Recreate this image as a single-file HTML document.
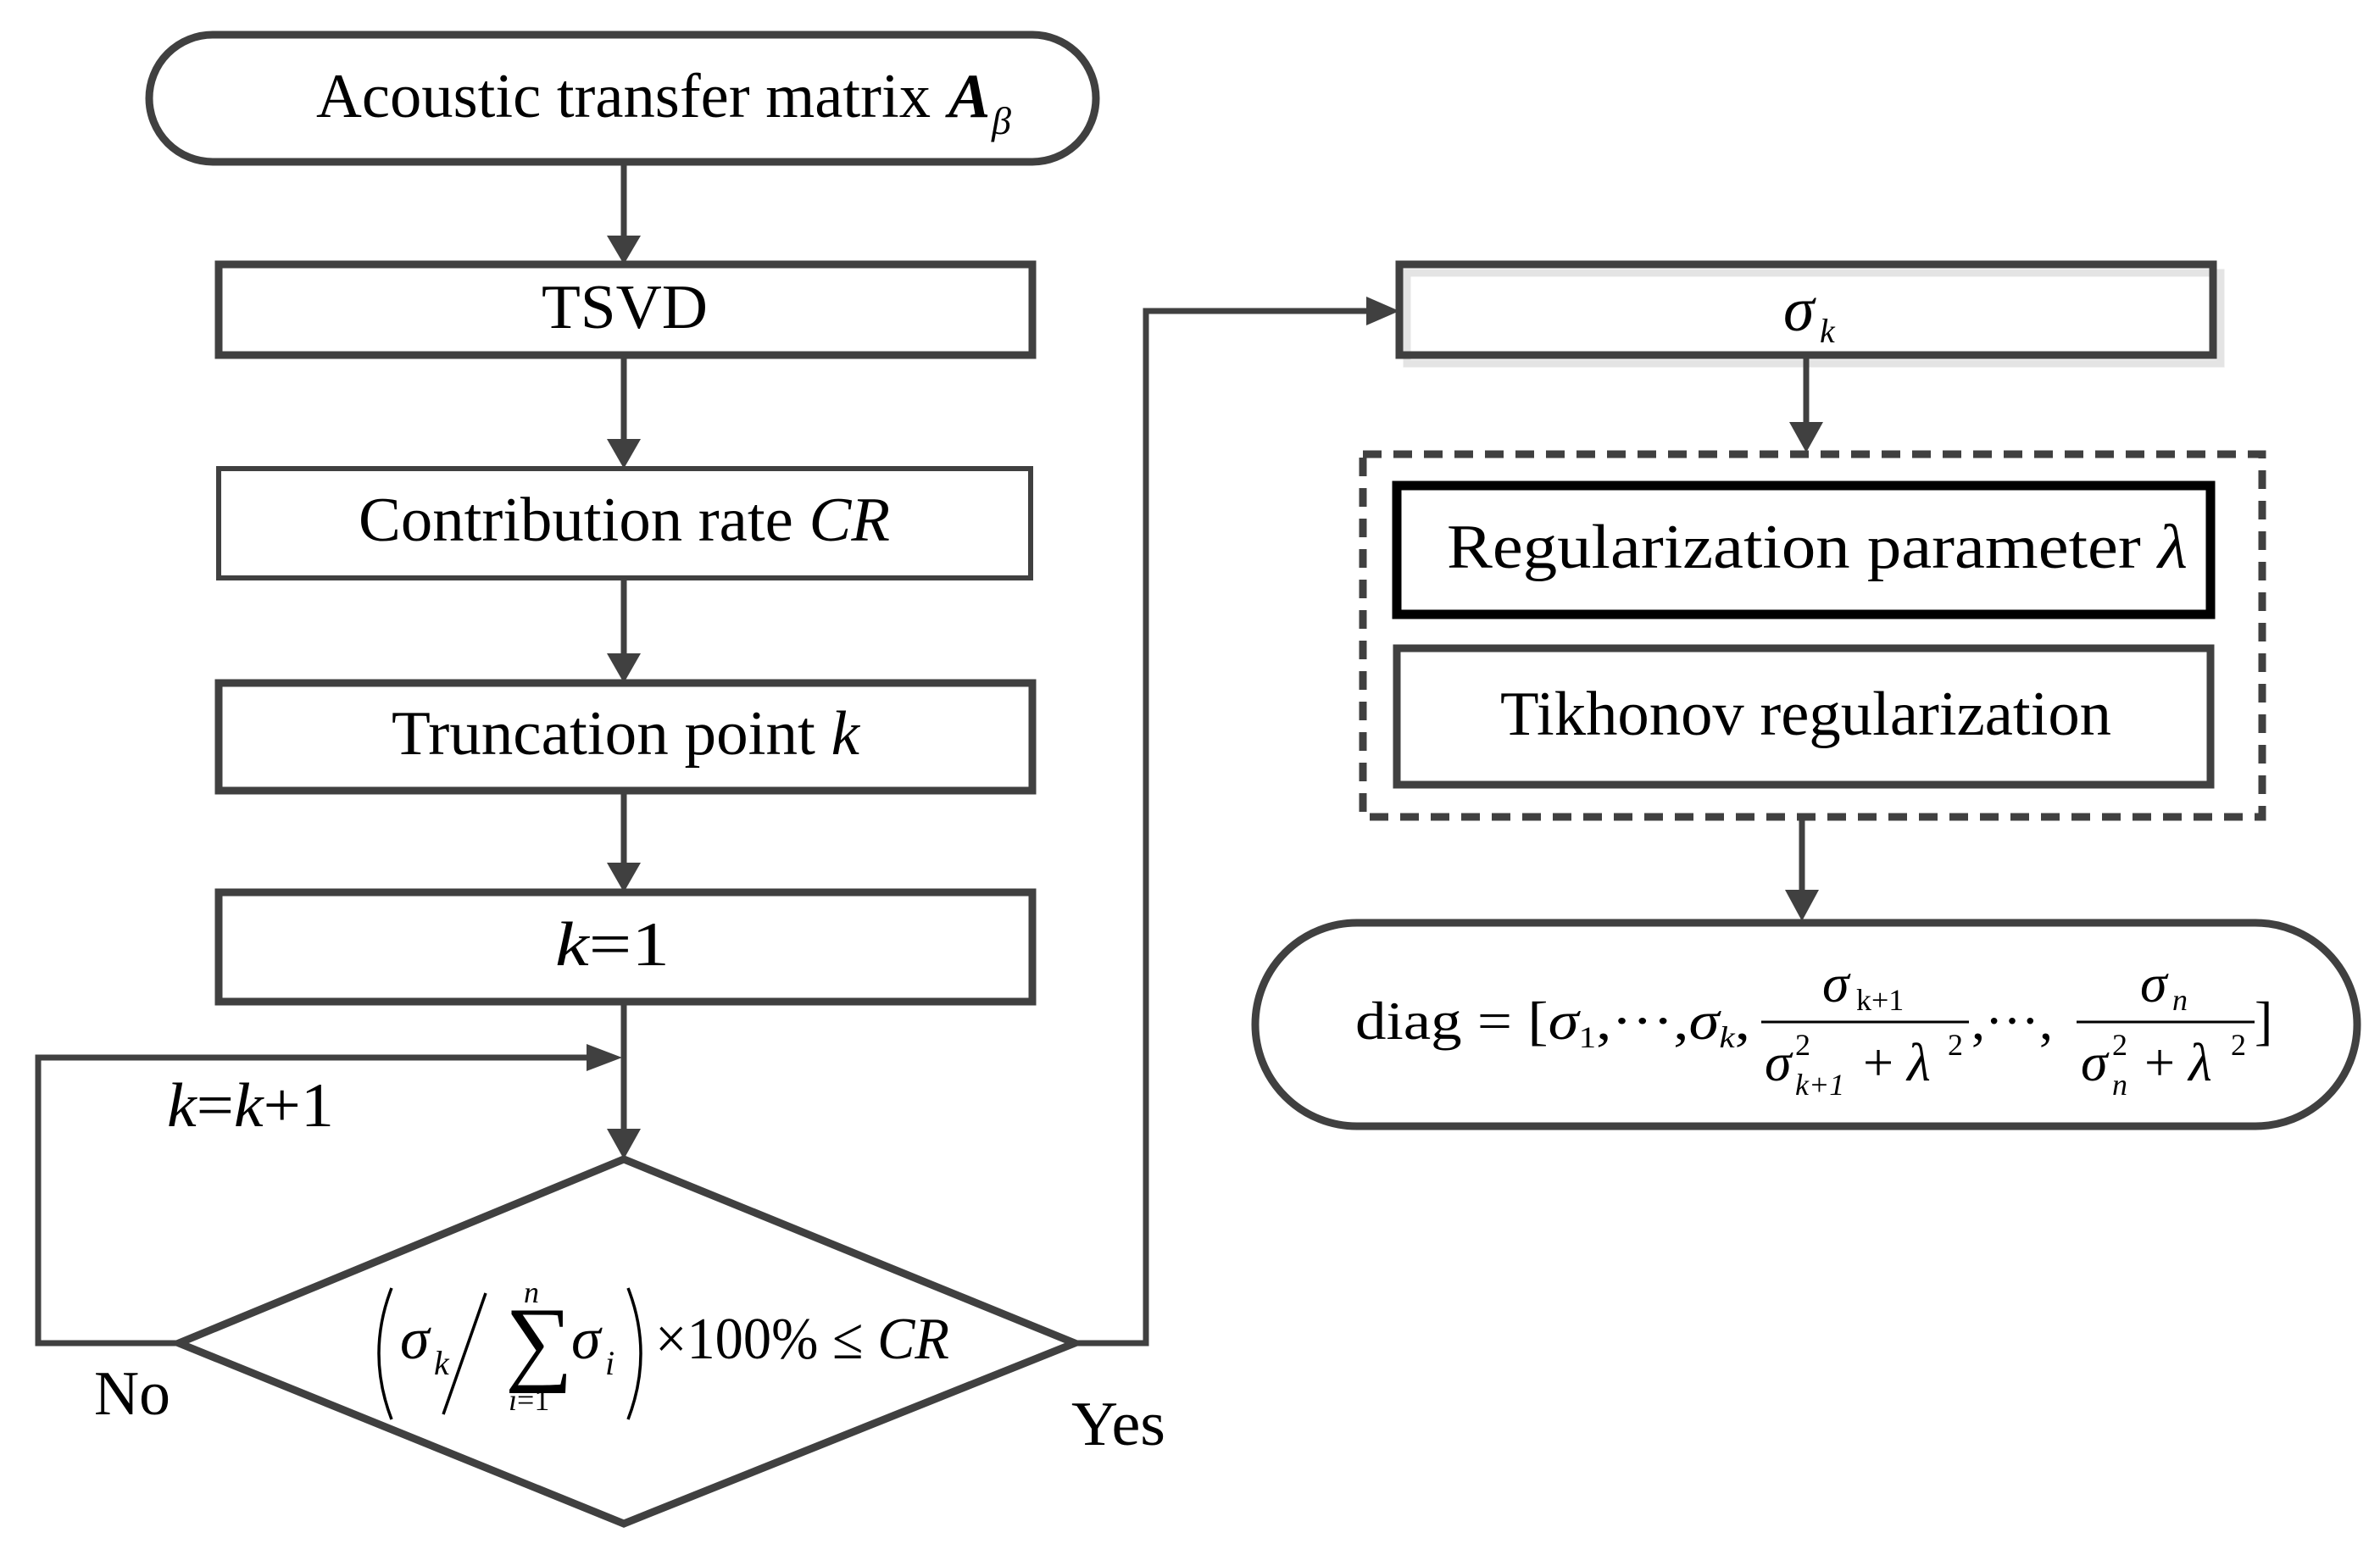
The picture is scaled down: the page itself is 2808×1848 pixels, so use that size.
<!DOCTYPE html>
<html><head><meta charset="utf-8"><style>
html,body{margin:0;padding:0;background:#fff;}
svg{display:block;}
text{font-family:"Liberation Serif",serif;fill:#000;}
</style></head><body>
<svg width="2808" height="1848" viewBox="0 0 2808 1848" xmlns="http://www.w3.org/2000/svg">
<g stroke="#404040" fill="none" stroke-width="9">
<rect x="176" y="41" width="1117" height="150" rx="75" ry="75"/>
<rect x="258" y="312" width="960" height="107"/>
<rect x="258" y="553" width="958" height="129" stroke-width="6"/>
<rect x="258" y="806" width="960" height="127"/>
<rect x="258" y="1053" width="960" height="129"/>
<polygon points="211,1585 736,1368 1268,1585 736,1798"/>
<rect x="1660" y="322" width="960" height="107" stroke="#e4e4e4" stroke-width="9"/>
<rect x="1651" y="312" width="960" height="107"/>
<rect x="1608" y="536" width="1061" height="428" stroke-dasharray="22,14" stroke-width="9"/>
<rect x="1648" y="573" width="960" height="152" stroke="#000" stroke-width="11"/>
<rect x="1648" y="765" width="960" height="161"/>
<rect x="1481" y="1089" width="1300" height="240" rx="120" ry="120"/>
</g>
<g stroke="#404040" stroke-width="7" fill="none">
<line x1="736" y1="191" x2="736" y2="280"/>
<line x1="736" y1="419" x2="736" y2="520"/>
<line x1="736" y1="682" x2="736" y2="773"/>
<line x1="736" y1="933" x2="736" y2="1020"/>
<line x1="736" y1="1182" x2="736" y2="1335"/>
<polyline points="211,1585 45,1585 45,1248 700,1248"/>
<polyline points="1268,1585 1352,1585 1352,367 1615,367"/>
<line x1="2131" y1="419" x2="2131" y2="500"/>
<line x1="2126" y1="964" x2="2126" y2="1050"/>
</g>
<g fill="#404040">
<polygon points="716,278 756,278 736,312"/>
<polygon points="716,518 756,518 736,553"/>
<polygon points="716,771 756,771 736,806"/>
<polygon points="716,1018 756,1018 736,1053"/>
<polygon points="716,1332 756,1332 736,1368"/>
<polygon points="692,1232 692,1264 734,1248"/>
<polygon points="1612,350 1612,384 1651,367"/>
<polygon points="2111,498 2151,498 2131,534"/>
<polygon points="2106,1050 2146,1050 2126,1087"/>
</g>
<g font-size="74">
<text x="373" y="138" textLength="725" lengthAdjust="spacingAndGlyphs">Acoustic transfer matrix</text>
<text x="1119" y="138" font-weight="bold" font-style="italic">A</text>
<text x="1170" y="158" font-size="46" font-style="italic">β</text>
<text x="639" y="387" textLength="196" lengthAdjust="spacingAndGlyphs">TSVD</text>
<text x="423" y="638" textLength="627" lengthAdjust="spacingAndGlyphs">Contribution rate <tspan font-style="italic">CR</tspan></text>
<text x="462" y="890" textLength="552" lengthAdjust="spacingAndGlyphs">Truncation point <tspan font-style="italic">k</tspan></text>
<text x="655" y="1139" textLength="135" lengthAdjust="spacingAndGlyphs"><tspan font-style="italic">k</tspan>=1</text>
<text x="197" y="1329" textLength="197" lengthAdjust="spacingAndGlyphs"><tspan font-style="italic">k</tspan>=<tspan font-style="italic">k</tspan>+1</text>
<text x="111" y="1669" textLength="90" lengthAdjust="spacingAndGlyphs">No</text>
<text x="1264" y="1705" textLength="111" lengthAdjust="spacingAndGlyphs">Yes</text>
<text x="2104" y="390" font-style="italic">σ</text>
<text x="2147" y="404" font-size="40" font-style="italic">k</text>
<text x="1707" y="670" textLength="874" lengthAdjust="spacingAndGlyphs">Regularization parameter <tspan font-style="italic">λ</tspan></text>
<text x="1770" y="867" textLength="721" lengthAdjust="spacingAndGlyphs">Tikhonov regularization</text>
</g>
<!-- decision formula -->
<g stroke="#000" stroke-width="3.5" fill="none">
<path d="M462,1520 Q432,1597 462,1675"/>
<path d="M741,1520 Q771,1597 741,1675"/>
<line x1="523" y1="1669" x2="573" y2="1526"/>
</g>
<g font-size="70">
<text x="472" y="1603" font-style="italic">σ</text>
<text x="512" y="1622" font-size="40" font-style="italic">k</text>
<text x="596" y="1620" font-size="112">∑</text>
<text x="618" y="1537" font-size="36" font-style="italic">n</text>
<text x="600" y="1664" font-size="36"><tspan font-style="italic">i</tspan>=1</text>
<text x="674" y="1603" font-style="italic">σ</text>
<text x="714" y="1622" font-size="40" font-style="italic">i</text>
<text x="773" y="1603" textLength="347" lengthAdjust="spacingAndGlyphs">×100% ≤ <tspan font-style="italic">CR</tspan></text>
</g>
<!-- diag formula -->
<g font-size="64">
<text x="1599" y="1226" textLength="466" lengthAdjust="spacingAndGlyphs">diag = [<tspan font-style="italic">σ</tspan><tspan font-size="36" dy="10">1</tspan><tspan dy="-10">,···,</tspan><tspan font-style="italic">σ</tspan><tspan font-size="36" dy="10" font-style="italic">k</tspan><tspan dy="-10">,</tspan></text>
<line x1="2078" y1="1206" x2="2323" y2="1206" stroke="#000" stroke-width="3"/>
<text x="2150" y="1182" font-style="italic">σ</text>
<text x="2190" y="1192" font-size="36">k+1</text>
<text x="2082" y="1275" font-style="italic">σ</text>
<text x="2118" y="1245" font-size="36">2</text>
<text x="2118" y="1292" font-size="36" font-style="italic">k+1</text>
<text x="2198" y="1275">+ <tspan font-style="italic">λ</tspan></text>
<text x="2298" y="1245" font-size="36">2</text>
<text x="2326" y="1226">,···,</text>
<line x1="2450" y1="1206" x2="2660" y2="1206" stroke="#000" stroke-width="3"/>
<text x="2525" y="1182" font-style="italic">σ</text>
<text x="2563" y="1192" font-size="36" font-style="italic">n</text>
<text x="2455" y="1275" font-style="italic">σ</text>
<text x="2492" y="1245" font-size="36">2</text>
<text x="2492" y="1292" font-size="36" font-style="italic">n</text>
<text x="2530" y="1275">+ <tspan font-style="italic">λ</tspan></text>
<text x="2632" y="1245" font-size="36">2</text>
<text x="2660" y="1226">]</text>
</g>
</svg>
</body></html>
